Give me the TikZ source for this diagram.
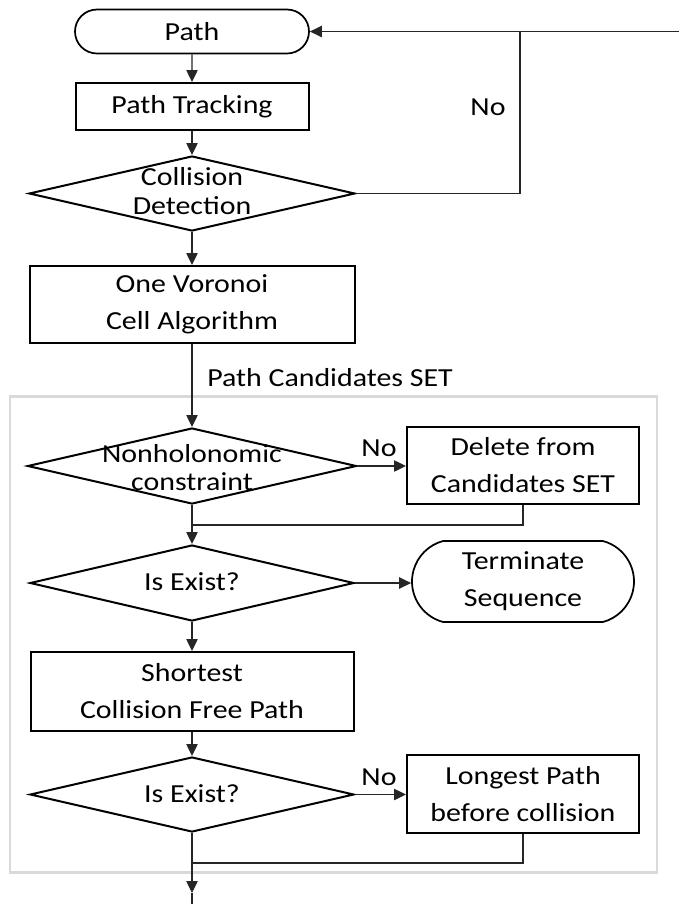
\documentclass[tikz,border=0pt]{standalone}
\usepackage{fontspec}
\setmainfont{Carlito}[FakeStretch=1.15]
\usetikzlibrary{shapes.geometric,shapes.misc,arrows.meta}

\begin{document}
\begin{tikzpicture}[x=0.75pt,y=-0.75pt,
  txt/.style={font=\fontsize{19.5}{27.75}\selectfont, align=center, inner sep=0pt},
  box/.style={draw=black, line width=1.5pt, rectangle, txt},
  termbox/.style={draw=black, line width=1.3pt, rounded rectangle, txt},
  dia/.style={draw=black, line width=1.5pt, diamond, inner sep=0pt},
  diatext/.style={align=center, inner sep=0pt},
  conn/.style={draw=black!85, line width=1pt},
  arr/.style={conn, -{Triangle[length=9pt,width=8.5pt]}},
  lbl/.style={font=\fontsize{19.5}{23}\selectfont, inner sep=0pt},
  frame/.style={draw=black!15, line width=1.6pt, rectangle, inner sep=0pt},
]
\useasboundingbox (0,0) rectangle (679,904);

% grey frame around the candidate-selection stage
\node[frame, minimum width=485.25pt, minimum height=357pt] (stage) at (333.5,634.5) {};

% main column
\node[termbox, minimum width=175.5pt, minimum height=33pt] (path) at (192,31.5) {Path};
\node[box, minimum width=174.75pt, minimum height=35.25pt] (track) at (192,106.5) {Path Tracking};
\node[dia, minimum width=244.5pt, minimum height=56.25pt] (coll) at (192,193.5) {};
\node[diatext, font=\fontsize{19.5}{21.75}\selectfont] (collt) at (192,191.5) {Collision\\Detection};
\node[box, minimum width=243.75pt, minimum height=57.75pt] (voronoi) at (192,304.5) {One Voronoi\\Cell Algorithm};
\node[dia, minimum width=246.75pt, minimum height=57pt] (nonh) at (192,466) {};
\node[diatext, font=\fontsize{19.5}{20.5}\selectfont] (nonht) at (192,467.5) {Nonholonomic\\constraint};
\node[dia, minimum width=243pt, minimum height=57pt] (exist1) at (192,583) {};
\node[diatext, font=\fontsize{19.5}{23}\selectfont] (exist1t) at (192,582) {Is Exist?};
\node[box, minimum width=242.25pt, minimum height=59.25pt] (shortest) at (192,691.5) {Shortest\\Collision Free Path};
\node[dia, minimum width=243pt, minimum height=56.25pt] (exist2) at (192,794.5) {};
\node[diatext, font=\fontsize{19.5}{23}\selectfont] (exist2t) at (192,793.5) {Is Exist?};

% side column
\node[box, minimum width=174pt, minimum height=57.75pt] (delete) at (523,465.5) {Delete from\\Candidates SET};
\node[termbox, rounded rectangle arc length=150, minimum width=166.5pt, minimum height=60.75pt] (term) at (523,581.5) {Terminate\\Sequence};
\node[box, minimum width=174pt, minimum height=58.5pt] (longest) at (523,794) {Longest Path\\before collision};

% labels
\node[lbl] (no1) at (488,107) {No};
\node[lbl] (no2) at (379,448) {No};
\node[lbl] (no3) at (379,777) {No};
\node[lbl, anchor=west] (pcs) at (207,378) {Path Candidates SET};

% helper points
\coordinate (loop) at (520,31.5);
\coordinate (loopend) at (679,31.5);
\coordinate (join1) at (192,525);
\coordinate (join2) at (192,863);
\coordinate (tip) at (192,893);
\coordinate (tail) at (192,904);

% connectors
\draw[arr] (path) -- (track);
\draw[arr] (track) -- (coll);
\draw[arr] (coll.east) -| (loop) -- (loop -| path.east);
\draw[conn] (loop) -- (loopend);
\draw[arr] (coll) -- (voronoi);
\draw[arr] (voronoi) -- (nonh);
\draw[arr] (nonh.east) -- (nonh.east -| delete.west);
\draw[conn] (delete.south) |- (join1);
\draw[arr] (nonh.south) -- (exist1.north);
\draw[arr] (exist1.east) -- (exist1.east -| term.west);
\draw[arr] (exist1) -- (shortest);
\draw[arr] (shortest) -- (exist2);
\draw[arr] (exist2.east) -- (exist2.east -| longest.west);
\draw[conn] (longest.south) |- (join2);
\draw[arr] (exist2.south) -- (tip);
\draw[conn] (tip) -- (tail);
\end{tikzpicture}
\end{document}
